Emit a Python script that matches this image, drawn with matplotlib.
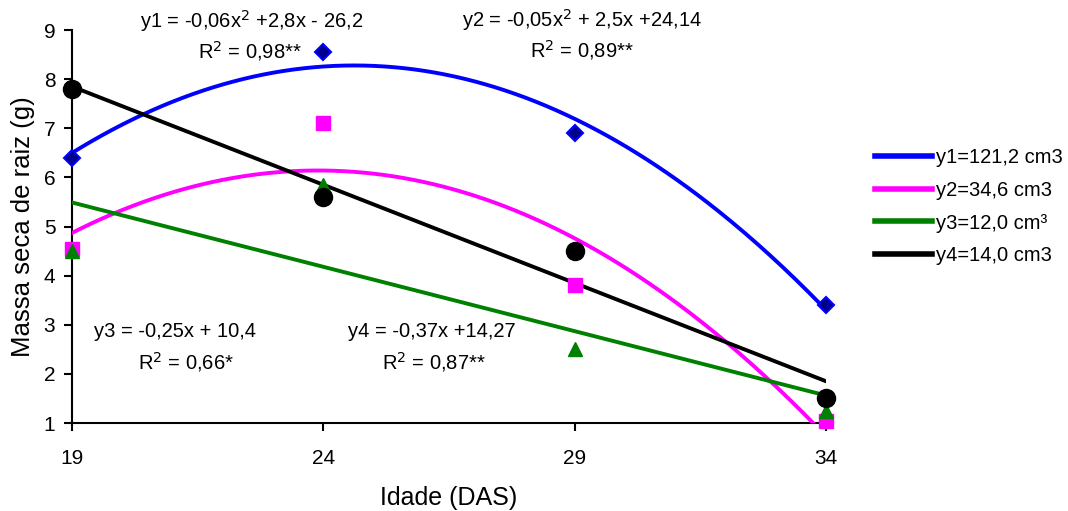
import numpy as np
import matplotlib
matplotlib.use('Agg')
import matplotlib.pyplot as plt

plt.rcParams['font.family'] = ['Liberation Sans', 'DejaVu Sans']

idade = [19, 24, 29, 34]
y1 = [6.4, 8.55, 6.9, 3.4]
y2 = [4.55, 7.1, 3.8, 1.05]
y3 = [4.5, 5.85, 2.5, 1.25]
y4 = [7.8, 5.6, 4.5, 1.5]

labels = ['y1=121,2 cm3', 'y2=34,6 cm3', 'y3=12,0 cm³', 'y4=14,0 cm3']
colors = ['#0000FF', '#FF00FF', '#008000', '#000000']
degrees = [2, 2, 1, 1]

fig = plt.figure(figsize=(10.68, 5.11), dpi=100)
ax = fig.add_axes([0.0674, 0.1722, 0.706, 0.769])

xs = np.linspace(19, 34, 300)
series = [y1, y2, y3, y4]
for ys, col, deg, lab in zip(series, colors, degrees, labels):
    coef = np.polyfit(idade, ys, deg)
    ax.plot(xs, np.polyval(coef, xs), color=col, lw=2.8, label=lab, zorder=3)

ax.plot(idade, y1, 'D', ms=8, mfc='#00008B', mec='#0000FF', mew=1.5, ls='none', clip_on=False, zorder=4)
ax.plot(idade, y2, 's', ms=10, color='#FF00FF', ls='none', clip_on=False, zorder=4)
ax.plot(idade, y3, '^', ms=10, color='#008000', ls='none', clip_on=False, zorder=4)
ax.plot(idade, y4, 'o', ms=13, color='#000000', ls='none', clip_on=False, zorder=5)

ax.set_xlim(19, 34)
ax.set_ylim(1, 9)
ax.set_xticks(idade)
ax.set_yticks(range(1, 10))
ax.spines['top'].set_visible(False)
ax.spines['right'].set_visible(False)
ax.spines['left'].set_linewidth(1.5)
ax.spines['bottom'].set_linewidth(1.5)
ax.tick_params(direction='out', length=6, width=1.5, labelsize=15)
ax.tick_params(axis='x', pad=13)
ax.tick_params(axis='y', pad=6)
ax.set_xlabel('Idade (DAS)', fontsize=18, labelpad=13)
ax.set_ylabel('Massa seca de raiz (g)', fontsize=18.5, labelpad=6)

# equations
def ftext(px, py, s):
    fig.text(px / 1068, 1 - py / 511, s, ha='center', va='center', fontsize=14.5)

ftext(252, 21, 'y1 = -0,06x$^{2}$ +2,8x - 26,2')
ftext(250, 51, 'R$^{2}$ = 0,98**')
ftext(582, 20, 'y2 = -0,05x$^{2}$ + 2,5x +24,14')
ftext(582, 50, 'R$^{2}$ = 0,89**')
ftext(175, 331, 'y3 = -0,25x + 10,4')
ftext(186, 362, 'R$^{2}$ = 0,66*')
ftext(432, 331, 'y4 = -0,37x +14,27')
ftext(434, 362, 'R$^{2}$ = 0,87**')

leg = ax.legend(loc='upper left', bbox_to_anchor=(1.054, 0.72), frameon=False, fontsize=14.5,
                handlelength=2.85, handletextpad=0.2, labelspacing=0.68, borderaxespad=0)
for line in leg.get_lines():
    line.set_linewidth(4)

fig.savefig('out.png', dpi=100)
